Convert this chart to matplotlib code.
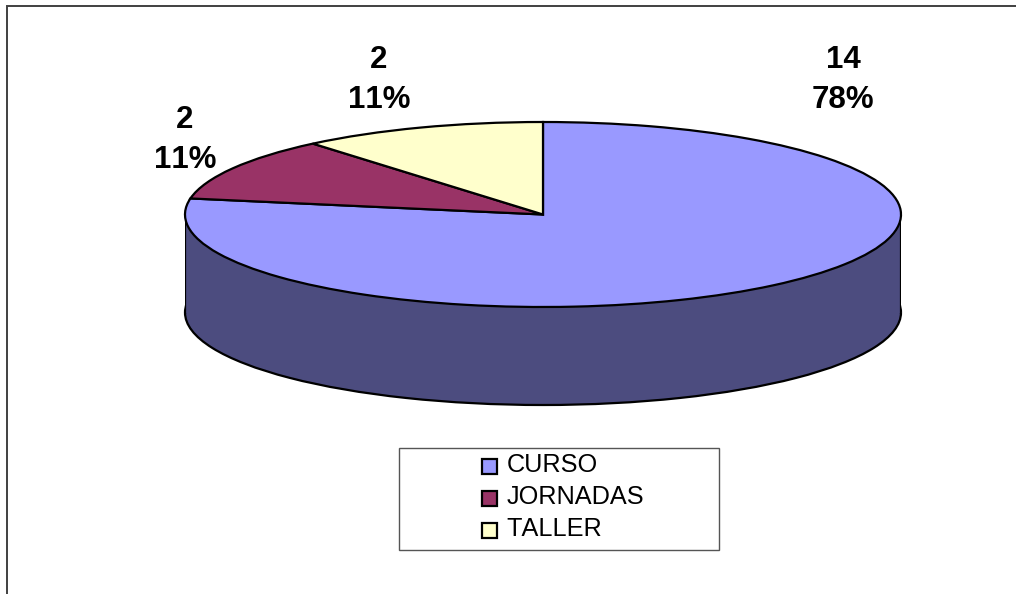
import matplotlib
matplotlib.use('Agg')
import matplotlib.pyplot as plt
from matplotlib.legend_handler import HandlerPatch
from matplotlib.patches import Rectangle, Wedge

plt.rcParams['font.family'] = ['Liberation Sans', 'DejaVu Sans']
plt.rcParams['text.kerning_factor'] = 6

# datos
categorias = ['CURSO', 'JORNADAS', 'TALLER']
valores = [14, 2, 2]
colores = ['#9999FF', '#993366', '#FFFFCC']
color_lado = '#4C4C7F'
etiqueta_x = [843, 185, 379]
etiqueta_y = [80, 140, 80]

W, H = 1016, 594
total = sum(valores)

fig = plt.figure(figsize=(W / 100, H / 100), dpi=100)

# capa de fondo en pixeles: marco y etiquetas
bg = fig.add_axes([0, 0, 1, 1])
bg.set_xlim(0, W)
bg.set_ylim(H, 0)
bg.axis('off')
bg.plot([6.5, 6.5, W], [H, 6, 6], color='#404040', lw=1.4, solid_joinstyle='miter')
bg.add_patch(Rectangle((399, 448), 320, 102, fc='white', ec='#555555', lw=1.0))

# pastel 3D: elipse con centro (543, 214.5), radios 358 y 92.5, altura 98
rx, ry, alto = 358, 92.5, 98
ax = fig.add_axes([(543 - rx) / W, 1 - (214.5 + ry + alto) / H, 2 * rx / W, (2 * ry + alto) / H])
ax.patch.set_alpha(0)
prof = alto / ry

borde = dict(edgecolor='black', linewidth=1.6)
# lado oscuro
ax.pie([total], colors=[color_lado], center=(0, -prof), radius=1, wedgeprops=borde)
ax.add_patch(Rectangle((-1, -prof), 2, prof, fc=color_lado, ec='none', zorder=1.5))
ax.plot([-1, -1], [0, -prof], color='black', lw=1.6, zorder=1.6)
ax.plot([1, 1], [0, -prof], color='black', lw=1.6, zorder=1.6)
# cara superior
wedges, _ = ax.pie(valores, colors=colores, startangle=90, counterclock=False,
                   radius=1, wedgeprops=borde)
for w in wedges:
    w.set_zorder(2)
ax.set_aspect('auto')
ax.set_xlim(-1, 1)
ax.set_ylim(-1 - prof, 1)
ax.axis('off')

for v, x, y in zip(valores, etiqueta_x, etiqueta_y):
    bg.text(x, y, f'{v}\n{round(100 * v / total)}%', ha='center', va='center',
            fontsize=22.5, fontweight='bold', color='black', linespacing=1.47, zorder=5)

# leyenda
leg = fig.legend(wedges, categorias, loc='center', bbox_to_anchor=(563 / W, 1 - 497 / H),
                 frameon=False, fontsize=18.2, handlelength=0.6, handleheight=0.1,
                 handletextpad=0.36, labelspacing=0.31, borderpad=0, borderaxespad=0,
                 handler_map={Wedge: HandlerPatch(ypad=-0.29)})

fig.savefig('out.png', dpi=100)
